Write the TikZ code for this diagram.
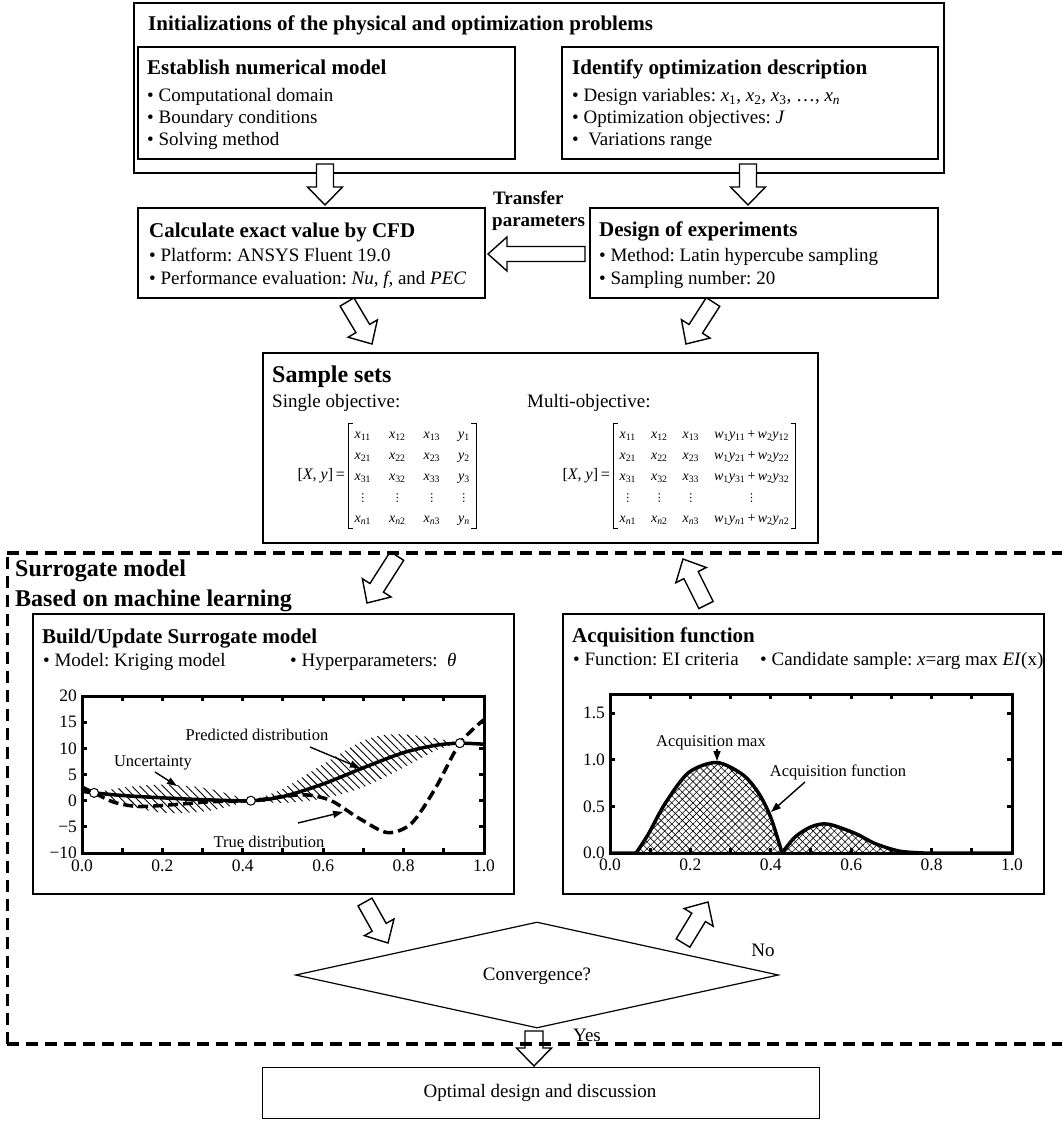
\documentclass[tikz,border=0pt]{standalone}
\usepackage{fontspec}
\setmainfont{Liberation Serif}
\newfontfamily\dejavu{DejaVu Sans}
\usetikzlibrary{shapes.geometric,patterns.meta,arrows.meta,calc}
\frenchspacing

\newcommand\ttlf{\bfseries\fontsize{21}{25}\selectfont}
\newcommand\bulf{\fontsize{19}{23}\selectfont}
\newcommand\bigf{\bfseries\fontsize{24}{28}\selectfont}
\newcommand\tickf{\fontsize{17.5}{20}\selectfont}
\newcommand\annf{\fontsize{16.5}{19}\selectfont}
\newcommand\vx[1]{\textit{x}\textsubscript{#1}}
\newcommand\vy[1]{\textit{y}\textsubscript{#1}}
\newcommand\wy[2]{\textit{w}\textsubscript{1}\textit{y}\textsubscript{#1}\,+\,\textit{w}\textsubscript{2}\textit{y}\textsubscript{#2}}
\newcommand\vdt{{\dejavu\fontsize{11}{12}\selectfont ⋮}}

% block arrow: tail, tip, half stem, half head, head length
\newcommand\barr[5]{%
  \path let \p1=(#1), \p2=(#2) in \pgfextra{%
    \pgfmathsetmacro\barang{atan2((\y2)-(\y1),(\x2)-(\x1))}%
    \pgfmathsetmacro\barlen{veclen((\x2)-(\x1),(\y2)-(\y1))}%
    \global\let\barangG\barang \global\let\barlenG\barlen};
  \begin{scope}[shift={(#1)}, rotate=\barangG]
    \draw[line width=1.4pt, fill=white, line join=miter, miter limit=10]
      (0,-#3) -- ({\barlenG-#5},-#3) -- ({\barlenG-#5},-#4) -- (\barlenG,0)
      -- ({\barlenG-#5},#4) -- ({\barlenG-#5},#3) -- (0,#3) -- cycle;
  \end{scope}}

\begin{document}
\begin{tikzpicture}[x=1pt,y=-1pt,
  box/.style={draw, line width=1.8pt, inner sep=0pt, anchor=north west},
  txt/.style={anchor=base west, inner sep=0pt},
  ctxt/.style={anchor=center, inner sep=0pt},
  ann/.style={line width=1.4pt, -{Triangle[length=10pt,width=7pt]}},
  mat/.style={anchor=west, inner xsep=4pt, inner ysep=0pt, font=\fontsize{14}{16.8}\selectfont},
  brk/.style={line width=0.9pt},
  spt/.style={circle, draw, fill=white, line width=1pt, inner sep=0pt, minimum size=9pt}]
\useasboundingbox (0,0) rectangle (1061,1121);

% ---------- top block ----------
\node[box, minimum width=810pt, minimum height=170pt] (init) at (133,2) {};
\node[txt] (initT) at (148,31) {\ttlf Initializations of the physical and optimization problems};
\node[box, minimum width=377pt, minimum height=112pt] (num) at (137,46) {};
\node[txt] (numT) at (147,75) {\ttlf Establish numerical model};
\node[txt] (numB1) at (147,102) {\bulf • Computational domain};
\node[txt] (numB2) at (147,124) {\bulf • Boundary conditions};
\node[txt] (numB3) at (147,146) {\bulf • Solving method};
\node[box, minimum width=376pt, minimum height=112pt] (opt) at (561,46) {};
\node[txt] (optT) at (572,75) {\ttlf Identify optimization description};
\node[txt] (optB1) at (572,102) {\bulf • Design variables: \vx{1}, \vx{2}, \vx{3}, …, \textit{x}\textsubscript{\textit{n}}};
\node[txt] (optB2) at (572,124) {\bulf • Optimization objectives: \textit{J}};
\node[txt] (optB3) at (572,146) {\bulf •\ \ Variations range};

% ---------- CFD / DOE ----------
\node[box, minimum width=347pt, minimum height=90pt] (cfd) at (137,207) {};
\node[txt] (cfdT) at (149,237) {\ttlf Calculate exact value by CFD};
\node[txt] (cfdB1) at (149,261) {\bulf • Platform: ANSYS Fluent 19.0};
\node[txt] (cfdB2) at (149,284) {\bulf • Performance evaluation: \textit{Nu}, \textit{f}, and \textit{PEC}};
\node[box, minimum width=348pt, minimum height=90pt] (doe) at (589,207) {};
\node[txt] (doeT) at (599,236) {\ttlf Design of experiments};
\node[txt] (doeB1) at (599,261) {\bulf • Method: Latin hypercube sampling};
\node[txt] (doeB2) at (599,284) {\bulf • Sampling number: 20};
\node[txt] (tr1) at (493,204) {\bfseries\fontsize{19}{23}\selectfont Transfer};
\node[txt] (tr2) at (492,226) {\bfseries\fontsize{19}{23}\selectfont parameters};

% ---------- Sample sets ----------
\node[box, minimum width=555pt, minimum height=190pt] (samp) at (262,352) {};
\node[txt] (sampT) at (272,382) {\bigf Sample sets};
\node[txt] (single) at (272,407) {\bulf Single objective:};
\node[txt] (multi) at (527,407) {\bulf Multi-objective:};

\node[anchor=east, inner sep=0pt] (xy1) at (345,476) {\fontsize{16}{18}\selectfont[\textit{X}, \textit{y}]\,=};
\node[mat] (mat1) at (348,476) {\renewcommand\arraystretch{1.25}\setlength\tabcolsep{9pt}\begin{tabular}{@{\,}cccc@{\,}}
  \vx{11} & \vx{12} & \vx{13} & \vy{1}\\
  \vx{21} & \vx{22} & \vx{23} & \vy{2}\\
  \vx{31} & \vx{32} & \vx{33} & \vy{3}\\
  \vdt & \vdt & \vdt & \vdt\\
  \textit{x}\textsubscript{\textit{n}1} & \textit{x}\textsubscript{\textit{n}2} & \textit{x}\textsubscript{\textit{n}3} & \textit{y}\textsubscript{\textit{n}}
  \end{tabular}};
\draw[brk] ($(mat1.north west)+(5,0)$) -- (mat1.north west) -- (mat1.south west) -- ++(5,0);
\draw[brk] ($(mat1.north east)+(-5,0)$) -- (mat1.north east) -- (mat1.south east) -- ++(-5,0);

\node[anchor=east, inner sep=0pt] (xy2) at (610,476) {\fontsize{16}{18}\selectfont[\textit{X}, \textit{y}]\,=};
\node[mat] (mat2) at (613,476) {\renewcommand\arraystretch{1.25}\setlength\tabcolsep{7.5pt}\begin{tabular}{@{\,}cccc@{\,}}
  \vx{11} & \vx{12} & \vx{13} & \wy{11}{12}\\
  \vx{21} & \vx{22} & \vx{23} & \wy{21}{22}\\
  \vx{31} & \vx{32} & \vx{33} & \wy{31}{32}\\
  \vdt & \vdt & \vdt & \vdt\\
  \textit{x}\textsubscript{\textit{n}1} & \textit{x}\textsubscript{\textit{n}2} & \textit{x}\textsubscript{\textit{n}3} & \textit{w}\textsubscript{1}\textit{y}\textsubscript{\textit{n}1}\,+\,\textit{w}\textsubscript{2}\textit{y}\textsubscript{\textit{n}2}
  \end{tabular}};
\draw[brk] ($(mat2.north west)+(5,0)$) -- (mat2.north west) -- (mat2.south west) -- ++(5,0);
\draw[brk] ($(mat2.north east)+(-5,0)$) -- (mat2.north east) -- (mat2.south east) -- ++(-5,0);

% ---------- Surrogate section ----------
\node[txt] (surT) at (15,576) {\bigf Surrogate model};
\node[txt] (surT2) at (15,606) {\bigf Based on machine learning};

\node[box, minimum width=481pt, minimum height=280pt] (build) at (32,613) {};
\node[txt] (buildT) at (42,643) {\ttlf Build/Update Surrogate model};
\node[txt] (buildB1) at (43,666) {\bulf • Model: Kriging model};
\node[txt] (buildB2) at (290,666) {\bulf • Hyperparameters:\ \ \textit{θ}};
\node[box, minimum width=481pt, minimum height=280pt] (acq) at (562,613) {};
\node[txt] (acqT) at (572,642) {\ttlf Acquisition function};
\node[txt] (acqB1) at (573,665) {\bulf • Function: EI criteria};
\node[txt] (acqB2) at (760,665) {\bulf • Candidate sample: \textit{x}=arg max \textit{EI}(x)};

% left plot
\begin{scope}[shift={(82pt,-800.7pt)}, x=402pt, y=5.23pt]
  \fill[pattern={Lines[angle=-45,distance=5.5pt,line width=0.9pt]}]
    plot[smooth] coordinates {(0.03,1.5) (0.1,2.5) (0.2,3.1) (0.3,2.5) (0.36,1.4) (0.42,0)}
    -- plot[smooth] coordinates {(0.42,0) (0.36,-1.2) (0.3,-2.1) (0.2,-2.3) (0.1,-0.6) (0.03,1.5)} -- cycle;
  \fill[pattern={Lines[angle=-45,distance=5.5pt,line width=0.9pt]}]
    plot[smooth] coordinates {(0.42,0) (0.5,2.3) (0.6,7.0) (0.7,11.5) (0.77,12.7) (0.85,12.3) (0.94,11)}
    -- plot[smooth] coordinates {(0.94,11) (0.88,9.6) (0.8,6.3) (0.7,2.6) (0.6,0.4) (0.5,-0.4) (0.42,0)} -- cycle;
  \draw[line width=3.5pt, dash pattern=on 10pt off 5pt] plot[smooth] coordinates {(0,2.6) (0.03,1.5) (0.08,-0.3) (0.14,-1.1) (0.22,-0.8) (0.32,-0.2) (0.42,0) (0.5,0.8) (0.56,1.1) (0.62,0) (0.69,-3.4) (0.76,-6.1) (0.82,-4.3) (0.88,2.5) (0.94,11) (1.0,15.5)};
  \draw[line width=3.5pt] plot[smooth] coordinates {(0,1.8) (0.03,1.5) (0.1,1.0) (0.2,0.55) (0.3,0.2) (0.42,0) (0.5,0.8) (0.6,3.2) (0.7,6.3) (0.8,9.2) (0.88,10.6) (0.94,11) (1.0,10.8)};
  \node[spt] (sp1) at (0.03,1.5) {};
  \node[spt] (sp2) at (0.42,0) {};
  \node[spt] (sp3) at (0.94,11) {};
  \draw[line width=3pt] (0,-10) rectangle (1,20);
  \foreach \t in {0.1,0.2,...,0.95} {
    \draw[line width=3pt] (\t,-10) -- (\t,-9.1);
    \draw[line width=3pt] (\t,20) -- (\t,19.1);}
  \foreach \v in {-5,0,5,10,15} {
    \draw[line width=3pt] (0,\v) -- (0.012,\v);
    \draw[line width=3pt] (1,\v) -- (0.988,\v);}
  \foreach \v/\l [count=\i] in {-10/−10,-5/−5,0/0,5/5,10/10,15/15,20/20}
    \node[anchor=east, inner sep=0pt] (ly\i) at (-0.012,\v) {\tickf\l};
  \foreach \v/\l [count=\i] in {0/0.0,0.2/0.2,0.4/0.4,0.6/0.6,0.8/0.8,1/1.0}
    \node[anchor=north, inner sep=0pt] (lx\i) at (\v,-11.2) {\tickf\l};
\end{scope}
\node[ctxt] (predL) at (257,735) {\annf Predicted distribution};
\node[ctxt] (uncL) at (153,763) {\annf Uncertainty};
\node[ctxt] (trueL) at (269,842) {\annf True distribution};
\coordinate (predA) at (310,747); \coordinate (predB) at (360,768);
\coordinate (uncA) at (155,772); \coordinate (uncB) at (177,786);
\coordinate (trueA) at (298,823); \coordinate (trueB) at (343,812);
\draw[ann] (predA) -- (predB);
\draw[ann] (uncA) -- (uncB);
\draw[ann] (trueA) -- (trueB);

% right plot
\begin{scope}[shift={(610pt,-853pt)}, x=402pt, y=93.3pt]
  \foreach \a in {45,-45} {
  \fill[pattern={Lines[angle=\a,distance=5pt,line width=0.6pt]}]
    plot[smooth] coordinates {(0.065,0) (0.095,0.2) (0.137,0.53) (0.195,0.86) (0.265,0.97) (0.33,0.84) (0.37,0.64) (0.4,0.38) (0.428,0)} -- cycle;
  \fill[pattern={Lines[angle=\a,distance=5pt,line width=0.6pt]}]
    plot[smooth] coordinates {(0.428,0) (0.46,0.17) (0.5,0.28) (0.542,0.31) (0.61,0.21) (0.66,0.1) (0.72,0.02) (0.78,0)} -- cycle;}
  \draw[line width=3.5pt, line join=round] (0,0) -- plot[smooth] coordinates {(0.065,0) (0.095,0.2) (0.137,0.53) (0.195,0.86) (0.265,0.97) (0.33,0.84) (0.37,0.64) (0.4,0.38) (0.428,0)}
    -- plot[smooth] coordinates {(0.428,0) (0.46,0.17) (0.5,0.28) (0.542,0.31) (0.61,0.21) (0.66,0.1) (0.72,0.02) (0.78,0)} -- (1,0);
  \draw[line width=3pt] (0,0) rectangle (1,1.7);
  \foreach \t in {0.1,0.2,...,0.95} {
    \draw[line width=3pt] (\t,0) -- (\t,0.05);
    \draw[line width=3pt] (\t,1.7) -- (\t,1.65);}
  \foreach \v in {0.5,1.0,1.5} {
    \draw[line width=3pt] (0,\v) -- (0.012,\v);
    \draw[line width=3pt] (1,\v) -- (0.988,\v);}
  \foreach \v/\l [count=\i] in {0/0.0,0.5/0.5,1/1.0,1.5/1.5}
    \node[anchor=east, inner sep=0pt] (ry\i) at (-0.012,\v) {\tickf\l};
  \foreach \v/\l [count=\i] in {0/0.0,0.2/0.2,0.4/0.4,0.6/0.6,0.8/0.8,1/1.0}
    \node[anchor=north, inner sep=0pt] (rx\i) at (\v,-0.06) {\tickf\l};
\end{scope}
\node[ctxt] (amaxL) at (711,743) {\annf Acquisition max};
\node[ctxt] (afunL) at (838,772) {\annf Acquisition function};
\coordinate (amaxA) at (717,749); \coordinate (amaxB) at (717,761);
\coordinate (afunA) at (805,782); \coordinate (afunB) at (771,812);
\draw[ann] (amaxA) -- (amaxB);
\draw[ann] (afunA) -- (afunB);

% convergence
\node[draw, diamond, line width=1.2pt, minimum width=483pt, minimum height=106pt, inner sep=0pt] (conv) at (537,975) {};
\node[ctxt] (convT) at (537,976) {\bulf Convergence?};
\node[ctxt] (noT) at (763,950) {\bulf No};
\node[ctxt] (yesT) at (587,1035) {\bulf Yes};

% optimal
\node[box, line width=1.4pt, minimum width=557pt, minimum height=51pt] (optim) at (262,1067) {};
\node[ctxt] (optimT) at (540,1093) {\bulf Optimal design and discussion};

% ---------- block arrows ----------
\coordinate (a1s) at (325,164); \coordinate (a1e) at (325,205);
\coordinate (a2s) at (748,164); \coordinate (a2e) at (748,205);
\coordinate (a3s) at (585,254); \coordinate (a3e) at (488,254);
\coordinate (a4s) at (347,302); \coordinate (a4e) at (372,344);
\coordinate (a5s) at (713,302); \coordinate (a5e) at (686,344);
\coordinate (a6s) at (397,556); \coordinate (a6e) at (367,603);
\coordinate (a7s) at (706,605); \coordinate (a7e) at (683,559);
\coordinate (a8s) at (365,902); \coordinate (a8e) at (388,943);
\coordinate (a9s) at (683,943); \coordinate (a9e) at (708,902);
\coordinate (a10s) at (534,1031); \coordinate (a10e) at (534,1066);
\barr{a1s}{a1e}{8.5}{17.5}{18}
\barr{a2s}{a2e}{8.5}{17.5}{18}
\barr{a3s}{a3e}{7.5}{17}{19}
\barr{a4s}{a4e}{8}{17}{18}
\barr{a5s}{a5e}{8}{17}{18}
\barr{a6s}{a6e}{8}{17}{18}
\barr{a7s}{a7e}{8}{17}{18}
\barr{a8s}{a8e}{8}{17}{18}
\barr{a9s}{a9e}{8}{17}{18}
\barr{a10s}{a10e}{9}{17.5}{18}

% ---------- dashed frame ----------
\coordinate (dTL) at (7,553); \coordinate (dTR) at (1063,553);
\coordinate (dBL) at (7,1044); \coordinate (dBR) at (1063,1044);
\draw[line width=4pt, dash pattern=on 12pt off 7pt] (dTL) -- (dTR);
\draw[line width=4pt, dash pattern=on 12pt off 7pt] (dBL) -- (dBR);
\draw[line width=3pt, dash pattern=on 12pt off 7pt] (dBL) -- (dTL);
\draw[line width=3pt, dash pattern=on 12pt off 7pt] (dBR) -- (dTR);
\end{tikzpicture}
\end{document}
